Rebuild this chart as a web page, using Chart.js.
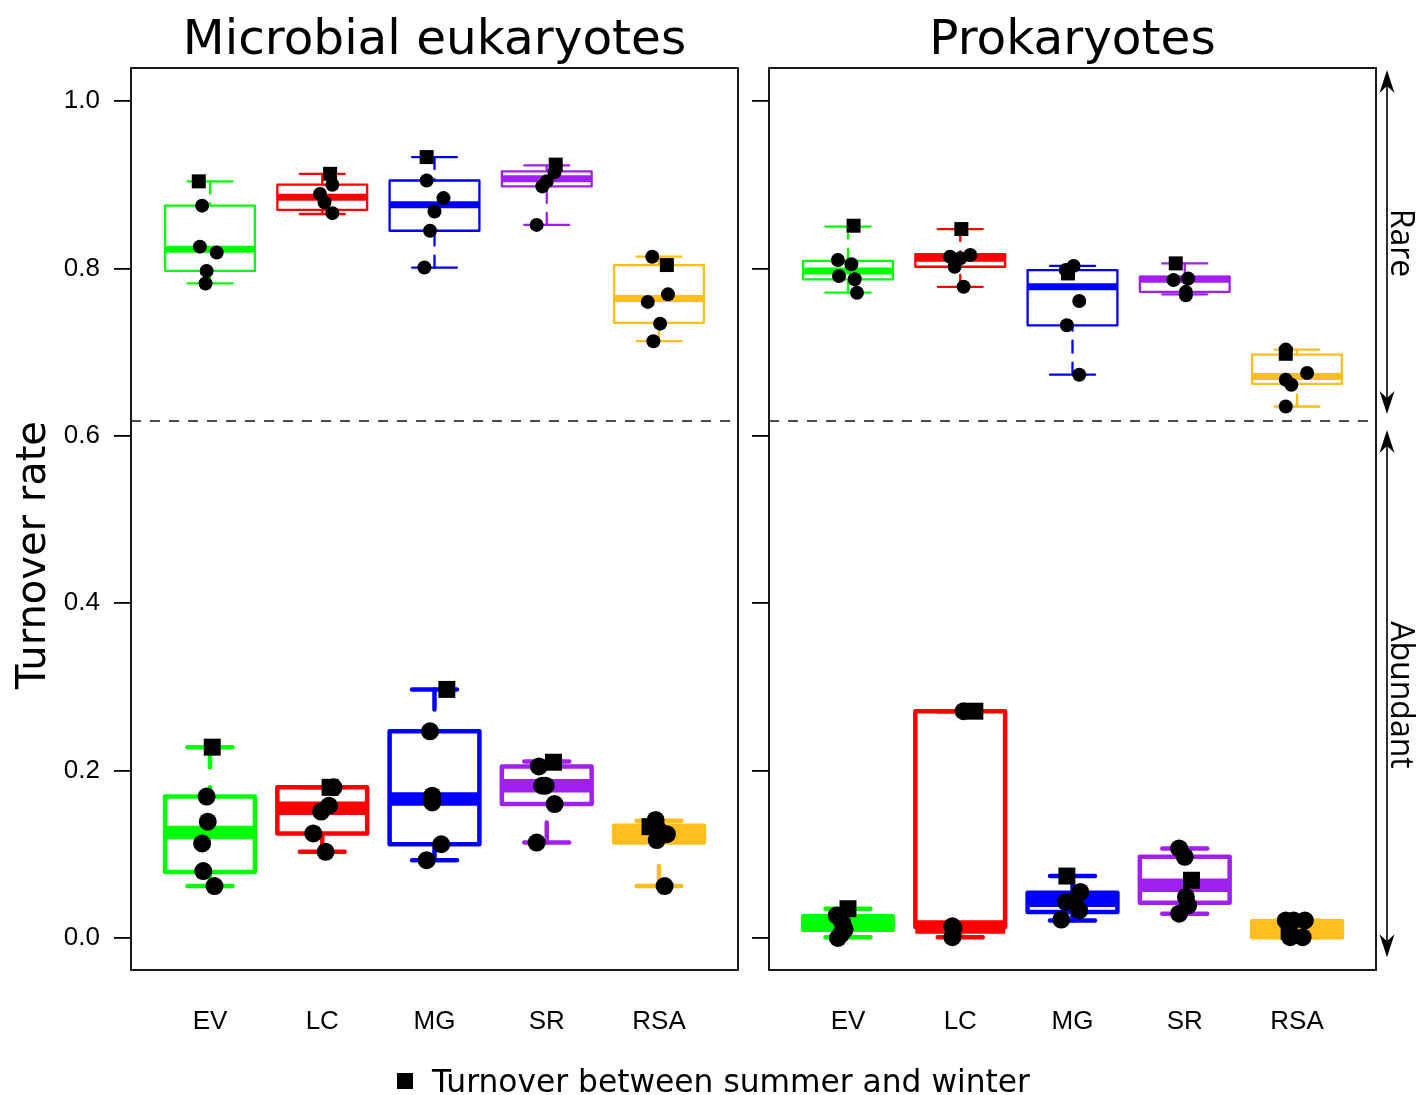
<!DOCTYPE html>
<html>
<head>
<meta charset="utf-8">
<script src="https://cdn.jsdelivr.net/npm/chart.js@4.4.0/dist/chart.umd.min.js"></script>
<style>
  body { margin: 0; background: #fff; width: 1418px; height: 1095px; position: relative; overflow: hidden; }
  #left { position: absolute; left: 0; top: 0; }
  #right { position: absolute; left: 750px; top: 0; }
  #legend {
    position: absolute; left: 397px; top: 1063px; height: 36px; line-height: 36px;
    display: flex; align-items: center; font: 31.3px "DejaVu Sans", sans-serif; color: #000;
  }
  #legend span.mark { display: inline-block; width: 16px; height: 16px; background: #000; margin-right: 19px; }
</style>
</head>
<body>
<canvas id="left" width="750" height="1095"></canvas>
<canvas id="right" width="668" height="1095"></canvas>
<div id="legend"><span class="mark"></span><span>Turnover between summer and winter</span></div>
<script>
// Categories and tick labels
const categories = ['EV', 'LC', 'MG', 'SR', 'RSA'];
const yTicks = [0, 0.2, 0.4, 0.6, 0.8, 1.0];
const rareThreshold = 0.6177;

// Box statistics per category: [min, q1, median, q3, max]
const eukRareStats = [
  [0.782, 0.797, 0.823, 0.875, 0.904],
  [0.865, 0.870, 0.885, 0.900, 0.913],
  [0.801, 0.845, 0.876, 0.905, 0.933],
  [0.852, 0.898, 0.907, 0.916, 0.923],
  [0.713, 0.735, 0.764, 0.804, 0.814]
];
const eukAbundStats = [
  [0.062, 0.079, 0.126, 0.169, 0.228],
  [0.103, 0.125, 0.155, 0.180, 0.180],
  [0.093, 0.112, 0.166, 0.247, 0.297],
  [0.114, 0.160, 0.182, 0.205, 0.211],
  [0.062, 0.114, 0.124, 0.134, 0.140]
];
const proRareStats = [
  [0.771, 0.787, 0.797, 0.809, 0.850],
  [0.778, 0.802, 0.812, 0.817, 0.847],
  [0.673, 0.732, 0.778, 0.798, 0.803],
  [0.769, 0.772, 0.787, 0.790, 0.806],
  [0.635, 0.662, 0.671, 0.697, 0.703]
];
const proAbundStats = [
  [0.001, 0.010, 0.018, 0.026, 0.035],
  [0.001, 0.013, 0.013, 0.271, 0.271],
  [0.021, 0.031, 0.045, 0.054, 0.074],
  [0.029, 0.042, 0.063, 0.097, 0.107],
  [0.001, 0.001, 0.010, 0.020, 0.021]
];

// Individual turnover values (circles) and their horizontal jitter
const eukRarePoints = [
  [0.875, 0.826, 0.819, 0.797, 0.782],
  [0.900, 0.889, 0.879, 0.866],
  [0.905, 0.884, 0.868, 0.845, 0.801],
  [0.915, 0.904, 0.898, 0.852],
  [0.814, 0.769, 0.760, 0.734, 0.713]
];
const eukRareJitter = [
  [-0.07, -0.09, 0.06, -0.03, -0.04],
  [0.09, -0.02, 0.02, 0.09],
  [-0.07, 0.08, 0.00, -0.04, -0.09],
  [0.07, 0.00, -0.04, -0.09],
  [-0.06, 0.08, -0.10, 0.01, -0.05]
];
const eukAbundPoints = [
  [0.169, 0.139, 0.113, 0.080, 0.062],
  [0.180, 0.158, 0.151, 0.125, 0.103],
  [0.247, 0.170, 0.162, 0.112, 0.093],
  [0.205, 0.182, 0.182, 0.160, 0.114],
  [0.141, 0.130, 0.124, 0.117, 0.062]
];
const eukAbundJitter = [
  [-0.03, -0.02, -0.07, -0.06, 0.04],
  [0.10, 0.06, -0.01, -0.08, 0.03],
  [-0.04, -0.02, -0.02, 0.06, -0.07],
  [-0.07, -0.04, -0.01, 0.07, -0.09],
  [-0.03, -0.01, 0.07, -0.02, 0.05]
];
const proRarePoints = [
  [0.810, 0.805, 0.791, 0.787, 0.771],
  [0.816, 0.814, 0.812, 0.802, 0.778],
  [0.803, 0.798, 0.761, 0.732, 0.673],
  [0.788, 0.786, 0.772, 0.768],
  [0.703, 0.675, 0.667, 0.661, 0.635]
];
const proRareJitter = [
  [-0.09, 0.03, -0.08, 0.06, 0.08],
  [0.09, -0.09, 0.00, -0.05, 0.03],
  [0.01, -0.06, 0.06, -0.05, 0.06],
  [0.03, -0.10, 0.01, 0.01],
  [-0.10, 0.09, -0.10, -0.05, -0.10]
];
const proAbundPoints = [
  [0.027, 0.018, 0.010, 0.005, 0.000],
  [0.271, 0.014, 0.012, 0.001],
  [0.055, 0.045, 0.043, 0.033, 0.022],
  [0.107, 0.097, 0.049, 0.039, 0.029],
  [0.021, 0.021, 0.021, 0.001, 0.001]
];
const proAbundJitter = [
  [-0.10, -0.05, -0.03, -0.06, -0.09],
  [0.03, -0.07, -0.06, -0.07],
  [0.07, 0.02, -0.06, 0.06, -0.10],
  [-0.05, 0.00, 0.01, 0.03, -0.05],
  [-0.10, -0.03, 0.07, 0.05, -0.06]
];

// Turnover between summer and winter (squares)
const eukRareSeason = [0.904, 0.913, 0.933, 0.924, 0.804];
const eukRareSeasonJitter = [-0.10, 0.07, -0.07, 0.08, 0.07];
const eukAbundSeason = [0.228, 0.180, 0.297, 0.210, 0.133];
const eukAbundSeasonJitter = [0.02, 0.07, 0.11, 0.06, -0.08];
const proRareSeason = [0.851, 0.847, 0.794, 0.806, 0.698];
const proRareSeasonJitter = [0.05, 0.01, -0.04, -0.08, -0.10];
const proAbundSeason = [0.035, 0.271, 0.074, 0.069, 0.008];
const proAbundSeasonJitter = [0.00, 0.13, -0.05, 0.06, -0.07];

const boxColors = ['#00FF00', '#FF0000', '#0000FF', '#A020F0', '#FFBE1E'];

// Build scatter points from values + jitter
function circlePoints(values, jitter) {
  const out = [];
  values.forEach((row, i) => row.forEach((v, k) => out.push({ x: i + 1 + jitter[i][k], y: v })));
  return out;
}
function squarePoints(values, jitter) {
  return values.map((v, i) => ({ x: i + 1 + jitter[i], y: v }));
}

function strokeLine(ctx, x1, y1, x2, y2) {
  ctx.beginPath();
  ctx.moveTo(x1, y1);
  ctx.lineTo(x2, y2);
  ctx.stroke();
}

// Draw one set of box plots through the chart's scales
function drawBoxes(ctx, xs, ys, stats, style) {
  stats.forEach((s, i) => {
    const c = i + 1;
    const [mn, q1, md, q3, mx] = s;
    const xl = xs.getPixelForValue(c - 0.4), xr = xs.getPixelForValue(c + 0.4);
    const xc = xs.getPixelForValue(c);
    const sl = xs.getPixelForValue(c - 0.2), sr = xs.getPixelForValue(c + 0.2);
    const Y = v => ys.getPixelForValue(v);

    ctx.strokeStyle = boxColors[i];
    ctx.lineWidth = style.lw;
    ctx.lineCap = 'round';
    ctx.lineJoin = 'round';

    // whiskers (dashed, from the ends towards the box)
    ctx.setLineDash(style.dash);
    if (mx > q3) strokeLine(ctx, xc, Y(mx), xc, Y(q3));
    if (mn < q1) strokeLine(ctx, xc, Y(mn), xc, Y(q1));
    ctx.setLineDash([]);

    // staples
    strokeLine(ctx, sl, Y(mx), sr, Y(mx));
    strokeLine(ctx, sl, Y(mn), sr, Y(mn));

    // box
    ctx.strokeRect(xl, Y(q3), xr - xl, Y(q1) - Y(q3));

    // median
    ctx.lineCap = 'butt';
    ctx.lineWidth = style.medLw;
    strokeLine(ctx, xl, Y(md), xr, Y(md));
  });
}

function drawArrow(ctx, x, yTop, yBot) {
  ctx.strokeStyle = '#000';
  ctx.fillStyle = '#000';
  ctx.lineWidth = 1.6;
  strokeLine(ctx, x, yTop + 6, x, yBot - 6);
  const head = (tip, dir) => {
    ctx.beginPath();
    ctx.moveTo(x, tip);
    ctx.lineTo(x - 7.5, tip + dir * 23);
    ctx.lineTo(x, tip + dir * 16);
    ctx.lineTo(x + 7.5, tip + dir * 23);
    ctx.closePath();
    ctx.fill();
  };
  head(yTop, 1);
  head(yBot, -1);
}

const boxPlugin = {
  id: 'boxes',
  beforeDatasetsDraw(chart, args, opts) {
    const { ctx, chartArea, scales } = chart;
    ctx.save();
    // rare / abundant divider
    const yd = scales.y.getPixelForValue(rareThreshold);
    ctx.strokeStyle = '#111';
    ctx.lineWidth = 1.6;
    ctx.setLineDash([10, 9]);
    strokeLine(ctx, chartArea.left, yd, chartArea.right, yd);
    ctx.setLineDash([]);

    drawBoxes(ctx, scales.x, scales.y, opts.rare, { lw: 2.3, medLw: 7, dash: [12, 10] });
    drawBoxes(ctx, scales.x, scales.y, opts.abund, { lw: 4.5, medLw: 13.5, dash: [20, 20] });
    ctx.restore();
  },
  afterDraw(chart, args, opts) {
    const { ctx, chartArea, scales } = chart;
    ctx.save();
    // frame
    ctx.strokeStyle = '#000';
    ctx.lineWidth = 1.8;
    ctx.strokeRect(chartArea.left, chartArea.top, chartArea.right - chartArea.left, chartArea.bottom - chartArea.top);

    // panel title
    ctx.fillStyle = '#000';
    ctx.font = '48.5px "DejaVu Sans"';
    ctx.textAlign = 'center';
    ctx.textBaseline = 'alphabetic';
    ctx.fillText(opts.title, (chartArea.left + chartArea.right) / 2, 54);

    if (opts.yTitle) {
      ctx.save();
      ctx.translate(45, 555);
      ctx.rotate(-Math.PI / 2);
      ctx.font = '40px "DejaVu Sans"';
      ctx.fillText(opts.yTitle, 0, 0);
      ctx.restore();
    }

    if (opts.arrows) {
      const ax = chartArea.right + 11;
      const Y = v => scales.y.getPixelForValue(v);
      drawArrow(ctx, ax, Y(1.037), Y(0.626));
      drawArrow(ctx, ax, Y(0.607), Y(-0.023));
      ctx.font = '32px "Open Sans"';
      ctx.textAlign = 'center';
      ctx.textBaseline = 'alphabetic';
      [['Rare', 243], ['Abundant', 695]].forEach(([t, yc]) => {
        ctx.save();
        ctx.translate(chartArea.right + 15, yc);
        ctx.rotate(Math.PI / 2);
        ctx.fillText(t, 0, 0);
        ctx.restore();
      });
    }
    ctx.restore();
  }
};

function makePanel(id, opts) {
  const datasets = [
    { data: squarePoints(opts.rareSeason, opts.rareSeasonJitter), pointStyle: 'rect', pointRadius: 9.9 },
    { data: squarePoints(opts.abundSeason, opts.abundSeasonJitter), pointStyle: 'rect', pointRadius: 12 },
    { data: circlePoints(opts.rarePoints, opts.rareJitter), pointStyle: 'circle', pointRadius: 7 },
    { data: circlePoints(opts.abundPoints, opts.abundJitter), pointStyle: 'circle', pointRadius: 9 }
  ].map(d => Object.assign(d, { backgroundColor: '#000', borderWidth: 0, pointHoverRadius: d.pointRadius }));

  new Chart(document.getElementById(id), {
    type: 'scatter',
    data: { datasets },
    options: {
      responsive: false,
      animation: false,
      events: [],
      layout: { padding: { top: 68, left: 0, right: opts.padRight, bottom: 0 } },
      plugins: {
        legend: { display: false },
        tooltip: { enabled: false },
        boxes: {
          rare: opts.rareStats,
          abund: opts.abundStats,
          title: opts.title,
          yTitle: opts.yTitle,
          arrows: opts.arrows
        }
      },
      scales: {
        x: {
          type: 'linear',
          min: 0.2962,
          max: 5.7038,
          afterBuildTicks: s => { s.ticks = categories.map((c, i) => ({ value: i + 1 })); },
          afterFit: s => { s.height = 125; },
          grid: { display: false, drawTicks: false },
          border: { display: false },
          ticks: {
            padding: 36,
            color: '#000',
            font: { family: '"Liberation Sans"', size: 26 },
            maxRotation: 0,
            autoSkip: false,
            callback: v => categories[Math.round(v) - 1]
          }
        },
        y: {
          type: 'linear',
          min: -0.03823,
          max: 1.03943,
          afterBuildTicks: s => { s.ticks = yTicks.map(v => ({ value: v })); },
          afterFit: s => { s.width = opts.axisWidth; },
          grid: { drawOnChartArea: false, drawTicks: true, tickLength: 17, color: '#000', lineWidth: 1.8 },
          border: { display: false },
          ticks: {
            padding: 14,
            color: '#000',
            font: { family: '"Liberation Sans"', size: 26 },
            callback: v => opts.showLabels ? v.toFixed(1) : ''
          }
        }
      }
    },
    plugins: [boxPlugin]
  });
}

makePanel('left', {
  title: 'Microbial eukaryotes',
  yTitle: 'Turnover rate',
  arrows: false,
  showLabels: true,
  axisWidth: 131,
  padRight: 12,
  rareStats: eukRareStats, abundStats: eukAbundStats,
  rarePoints: eukRarePoints, rareJitter: eukRareJitter,
  abundPoints: eukAbundPoints, abundJitter: eukAbundJitter,
  rareSeason: eukRareSeason, rareSeasonJitter: eukRareSeasonJitter,
  abundSeason: eukAbundSeason, abundSeasonJitter: eukAbundSeasonJitter
});

makePanel('right', {
  title: 'Prokaryotes',
  yTitle: null,
  arrows: true,
  showLabels: false,
  axisWidth: 19,
  padRight: 42,
  rareStats: proRareStats, abundStats: proAbundStats,
  rarePoints: proRarePoints, rareJitter: proRareJitter,
  abundPoints: proAbundPoints, abundJitter: proAbundJitter,
  rareSeason: proRareSeason, rareSeasonJitter: proRareSeasonJitter,
  abundSeason: proAbundSeason, abundSeasonJitter: proAbundSeasonJitter
});
</script>
</body>
</html>
